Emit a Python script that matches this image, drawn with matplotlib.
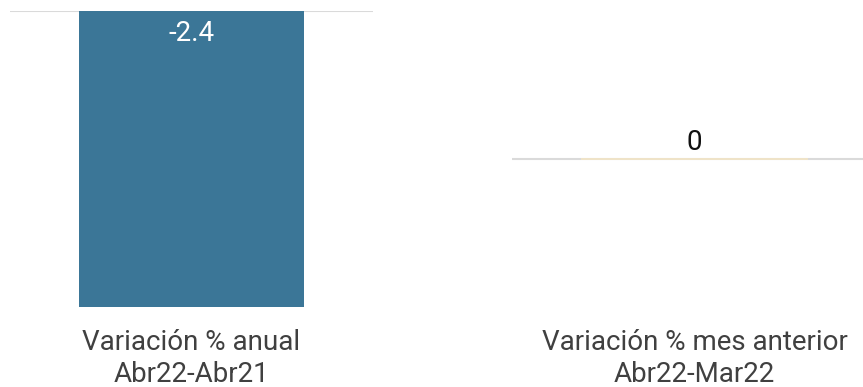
import matplotlib
matplotlib.use("Agg")
import matplotlib.pyplot as plt

plt.rcParams['font.family'] = ['Roboto', 'DejaVu Sans']

categories = ["Variación % anual\nAbr22-Abr21", "Variación % mes anterior\nAbr22-Mar22"]
values = [-2.4, 0.0]
value_labels = ["-2.4", "0"]
ylims = [(-2.4, 0.0), (-1.0, 1.0)]
bar_colors = ["#3b7697", "#efe3c8"]

fig = plt.figure(figsize=(8.63, 3.87), dpi=100)
axes_pos = [
    [10 / 863, 80 / 387, 363 / 863, 296 / 387],
    [512 / 863, 80 / 387, 365 / 863, 296 / 387],
]

for i, (cat, val, lab, yl, col) in enumerate(zip(categories, values, value_labels, ylims, bar_colors)):
    ax = fig.add_axes(axes_pos[i])
    ax.set_xlim(-0.5, 0.5)
    ax.set_ylim(*yl)
    ax.axhline(0, color="#dadada", lw=1.5, zorder=1)
    if val != 0:
        ax.bar([0], [val], width=0.62, color=col, zorder=2)
        ax.annotate(lab, (0, 0), xytext=(0, -16), textcoords="offset points",
                    ha="center", va="center", color="white", fontsize=20)
    else:
        ax.bar([0], [0.012], bottom=-0.006, width=0.62, color=col, zorder=2)
        ax.annotate(lab, (0, 0), xytext=(0, 12), textcoords="offset points",
                    ha="center", va="center", color="#111111", fontsize=20)
    ax.set_xticks([0])
    ax.set_xticklabels([cat], fontsize=20, color="#404040", linespacing=1.22)
    ax.tick_params(axis="x", length=0, pad=16)
    ax.set_yticks([])
    for s in ax.spines.values():
        s.set_visible(False)

fig.savefig("out.png", dpi=100)
